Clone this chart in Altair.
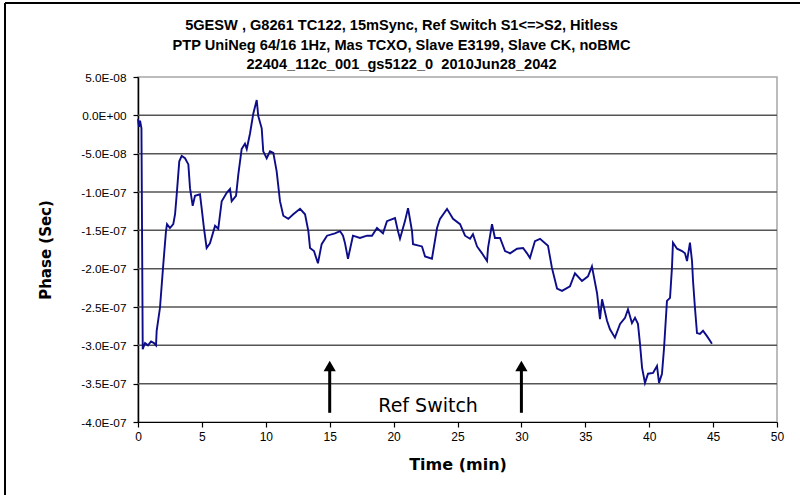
import altair as alt
import pandas as pd

# ---- data ----
time_min = [0.0, 0.08, 0.16, 0.27, 0.37, 0.55, 0.78, 1.02, 1.25, 1.41, 1.46, 1.72, 1.98, 2.19, 2.27, 2.5,
            2.76, 2.9, 3.03, 3.23, 3.42, 3.68, 3.94, 4.07, 4.28, 4.46, 4.85, 4.98, 5.16, 5.37, 5.63, 6.03,
            6.28, 6.55, 6.94, 7.2, 7.33, 7.67, 7.85, 8.11, 8.37, 8.51, 8.76, 9.02, 9.29, 9.41, 9.68, 9.8,
            10.07, 10.33, 10.59, 10.85, 11.11, 11.37, 11.76, 12.15, 12.68, 13.07, 13.33, 13.46, 13.77, 14.08,
            14.37, 14.79, 15.41, 15.81, 16.04, 16.2, 16.43, 16.82, 17.37, 17.92, 18.31, 18.7, 19.17, 19.48,
            20.11, 20.34, 20.5, 20.89, 21.13, 21.44, 21.52, 22.22, 22.46, 23.0, 23.4, 23.63, 24.18, 24.65,
            25.2, 25.59, 25.98, 26.21, 26.53, 26.92, 27.31, 27.39, 27.7, 27.93, 28.33, 28.72, 29.11, 29.66,
            30.13, 30.44, 30.67, 31.06, 31.46, 32.08, 32.39, 32.79, 33.18, 33.8, 34.19, 34.74, 35.21, 35.52,
            35.92, 36.15, 36.31, 36.7, 36.93, 37.32, 37.72, 38.11, 38.34, 38.65, 38.89, 39.12, 39.28, 39.44,
            39.67, 39.91, 40.3, 40.61, 40.77, 41.0, 41.16, 41.39, 41.63, 41.78, 41.86, 42.18, 42.57, 42.8,
            42.96, 43.19, 43.35, 43.43, 43.58, 43.74, 43.97, 44.21, 44.52, 44.76, 44.91]
phase_e8 = [-0.5, -1.5, -0.7, -1.7, -30.5, -29.7, -30.0, -29.5, -29.7, -30.0, -28.1, -25.1, -19.4, -15.1, -14.2, -14.7,
            -14.2, -12.9, -10.3, -6.0, -5.3, -5.6, -6.4, -9.5, -11.8, -10.5, -10.3, -12.1, -14.7, -17.3, -16.7, -14.4,
            -14.8, -11.2, -10.1, -9.6, -11.2, -10.5, -7.7, -4.4, -3.7, -4.4, -2.4, 0.2, 2.0, -0.1, -1.7, -4.7,
            -5.6, -4.7, -4.9, -7.3, -11.2, -13.1, -13.5, -12.9, -12.2, -12.9, -15.1, -17.3, -17.7, -19.3,
            -16.8, -15.7, -15.4, -15.1, -15.7, -16.7, -18.7, -15.7, -16.0, -15.7, -15.7, -14.7, -15.4, -13.8,
            -13.4, -15.1, -16.1, -13.8, -12.1, -15.1, -16.8, -17.1, -18.4, -18.7, -14.7, -13.5, -12.2, -13.5,
            -14.2, -15.7, -16.1, -15.5, -17.1, -18.0, -19.0, -17.3, -14.2, -16.0, -16.0, -17.7, -18.0, -17.4,
            -17.3, -18.0, -18.6, -16.4, -16.1, -17.0, -19.9, -22.6, -22.9, -22.3, -20.6, -21.6, -21.0, -19.7,
            -23.2, -26.6, -24.0, -26.8, -27.9, -29.0, -27.2, -26.4, -25.3, -27.1, -26.4, -27.2, -29.8, -32.9,
            -34.9, -33.7, -33.6, -32.7, -34.9, -33.7, -30.4, -24.2, -23.8, -19.9, -16.6, -17.4, -17.7, -18.0,
            -19.0, -16.6, -19.0, -21.6, -25.1, -28.4, -28.5, -28.1, -28.8, -29.4, -29.8]
phase_sec = [v * 1e-8 for v in phase_e8]

title_lines = [
    "5GESW , G8261 TC122, 15mSync, Ref Switch S1<=>S2, Hitless",
    "PTP UniNeg 64/16 1Hz, Mas TCXO, Slave E3199, Slave CK, noBMC",
    "22404_112c_001_gs5122_0\u00a0 2010Jun28_2042",
]
x_ticks = [0, 5, 10, 15, 20, 25, 30, 35, 40, 45, 50]
y_ticks = [5e-8, 0.0, -5e-8, -1e-7, -1.5e-7, -2e-7, -2.5e-7, -3e-7, -3.5e-7, -4e-7]
y_tick_labels = ["5.0E-08", "0.0E+00", "-5.0E-08", "-1.0E-07", "-1.5E-07",
                 "-2.0E-07", "-2.5E-07", "-3.0E-07", "-3.5E-07", "-4.0E-07"]
grid_values = [0.0, -5e-8, -1e-7, -1.5e-7, -2e-7, -2.5e-7, -3e-7, -3.5e-7]
switch_times = [15, 30]
arrow_base = -3.88e-7
arrow_shaft_top = -3.30e-7
arrow_head = -3.27e-7
note_text = "Ref Switch"
note_x = 22.7
note_y = -3.79e-7

line_df = pd.DataFrame({"t": time_min, "phase": phase_sec})
grid_df = pd.DataFrame({"t": [0.0] * len(grid_values), "phase": grid_values})
arrow_df = pd.DataFrame({"t": switch_times, "phase": [arrow_base] * 2, "y1": [arrow_shaft_top] * 2,
                         "yh": [arrow_head] * 2})
note_df = pd.DataFrame({"t": [note_x], "phase": [note_y], "label": [note_text]})

xs = alt.Scale(domain=[0, 50], nice=False, zero=False)
ys = alt.Scale(domain=[-4e-7, 5e-8], nice=False, zero=False)

label_array = "[" + ",".join("'%s'" % s for s in y_tick_labels) + "]"
y_label_expr = label_array + "[round(1 - datum.value * 20000000)]"

x_axis = alt.Axis(
    values=x_ticks, title="Time (min)", grid=False, labelFont="Liberation Sans", labelFontSize=12,
    labelColor="black", labelPadding=4, tickSize=5, tickColor="black", domainColor="black",
    domainWidth=1.2, tickWidth=1.2, titleFont="DejaVu Sans", titleFontSize=16, titleFontWeight="bold",
    titleColor="black", titlePadding=14, labelFlush=False)
y_axis = alt.Axis(
    values=y_ticks, labelExpr=y_label_expr, title="Phase (Sec)", grid=False,
    labelFont="Liberation Sans", labelFontSize=11.8, labelColor="black", labelPadding=7, tickSize=5,
    tickColor="black", domainColor="black", domainWidth=1.5, tickWidth=1.2,
    titleFont="DejaVu Sans", titleFontSize=15, titleFontWeight="bold", titleColor="black",
    titlePadding=27, labelFlush=False)

X = alt.X("t:Q", scale=xs, axis=x_axis)

grid = alt.Chart(grid_df).mark_rule(color="#555555", strokeWidth=1.5).encode(
    y=alt.Y("phase:Q", scale=ys, axis=y_axis)
)

line = alt.Chart(line_df).mark_line(color="#0d0d8a", strokeWidth=1.9).encode(
    x=X,
    y=alt.Y("phase:Q", scale=ys, axis=y_axis),
    order=alt.Order("t:Q"),
)

shaft = alt.Chart(arrow_df).mark_rule(color="black", strokeWidth=3).encode(
    x=X,
    y=alt.Y("phase:Q", scale=ys, axis=y_axis),
    y2="y1:Q",
)
head = alt.Chart(arrow_df).mark_point(shape="triangle-up", filled=True, color="black", size=150,
                                       opacity=1).encode(
    x=X,
    y=alt.Y("yh:Q", scale=ys, axis=y_axis),
)
note = alt.Chart(note_df).mark_text(font="DejaVu Sans", fontSize=19, color="black",
                                    align="center", baseline="middle").encode(
    x=X,
    y=alt.Y("phase:Q", scale=ys, axis=y_axis),
    text="label:N",
)

frame_df = pd.DataFrame({"k": [0]})
frame_left = alt.Chart(frame_df).mark_rule(color="black", strokeWidth=2).encode(
    x=alt.value(-133), y=alt.value(-74), y2=alt.value(420))
frame_top = alt.Chart(frame_df).mark_rule(color="black", strokeWidth=2).encode(
    x=alt.value(-133), x2=alt.value(665), y=alt.value(-74))

chart = alt.layer(grid, line, shaft, head, note, frame_left, frame_top).properties(
    width=639, height=345,
    padding={"left": 138, "top": 77, "right": 23, "bottom": 73},
    autosize=alt.AutoSizeParams(type="none"),
    background="white",
    title=alt.Title(text=title_lines, font="Liberation Sans", fontSize=14.6, fontWeight="bold",
                    color="black", anchor="middle", frame="group", dx=-56, dy=70, offset=0,
                    lineHeight=19.5),
).configure_view(stroke="#a6a6a6", strokeWidth=1.5)

chart.save("out.html", embed_options={"renderer": "svg", "actions": False})
